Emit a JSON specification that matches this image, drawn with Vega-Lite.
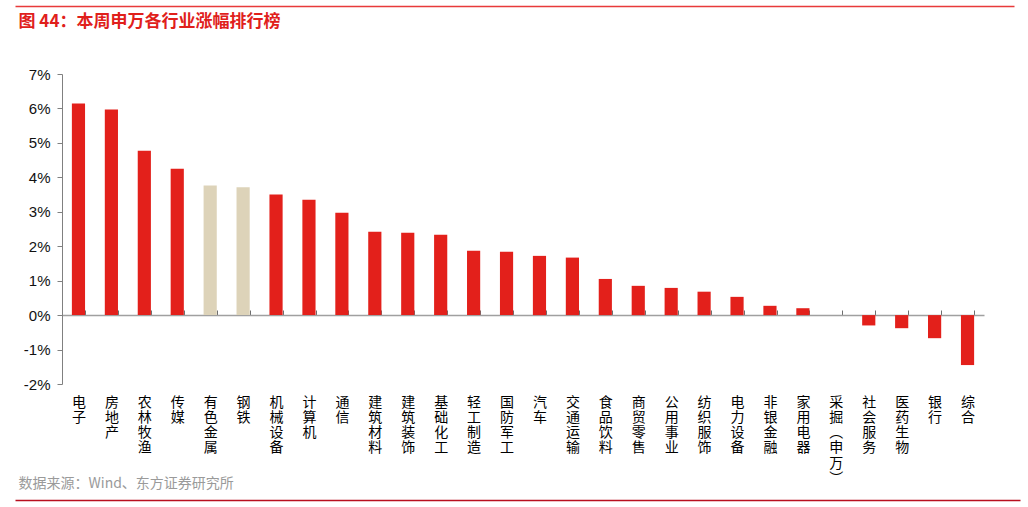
{
  "$schema": "https://vega.github.io/schema/vega-lite/v6.json",
  "width": 1005,
  "height": 310,
  "autosize": "none",
  "padding": {"left": 15, "top": 74, "right": 8, "bottom": 123},
  "config": {"view": {"stroke": null}, "font": "Noto Sans CJK SC"},
  "data": {
    "values": [
      {"industry": "电子", "change": 0.0614},
      {"industry": "房地产", "change": 0.0597},
      {"industry": "农林牧渔", "change": 0.0477},
      {"industry": "传媒", "change": 0.0425},
      {"industry": "有色金属", "change": 0.0376},
      {"industry": "钢铁", "change": 0.0371},
      {"industry": "机械设备", "change": 0.0350},
      {"industry": "计算机", "change": 0.0335},
      {"industry": "通信", "change": 0.0297},
      {"industry": "建筑材料", "change": 0.0242},
      {"industry": "建筑装饰", "change": 0.0239},
      {"industry": "基础化工", "change": 0.0233},
      {"industry": "轻工制造", "change": 0.0187},
      {"industry": "国防军工", "change": 0.0184},
      {"industry": "汽车", "change": 0.0172},
      {"industry": "交通运输", "change": 0.0167},
      {"industry": "食品饮料", "change": 0.0105},
      {"industry": "商贸零售", "change": 0.0085},
      {"industry": "公用事业", "change": 0.0079},
      {"industry": "纺织服饰", "change": 0.0068},
      {"industry": "电力设备", "change": 0.0053},
      {"industry": "非银金融", "change": 0.0027},
      {"industry": "家用电器", "change": 0.0020},
      {"industry": "采掘(申万)", "change": 0.0},
      {"industry": "社会服务", "change": -0.0030},
      {"industry": "医药生物", "change": -0.0038},
      {"industry": "银行", "change": -0.0067},
      {"industry": "综合", "change": -0.0145}
    ]
  },
  "layer": [
    {
      "mark": {"type": "bar"},
      "encoding": {
        "x": {
          "field": "industry",
          "type": "nominal",
          "sort": null,
          "scale": {"range": [47, 969], "paddingInner": 0.6, "paddingOuter": 0.3},
          "axis": {
            "orient": "bottom",
            "offset": -69,
            "title": null,
            "labelAngle": 0,
            "labelExpr": "split(replace(replace(datum.label, '(', '︵'), ')', '︶'), '')",
            "labelFontSize": 14,
            "labelLineHeight": 15.3,
            "labelPadding": 85,
            "labelBaseline": "top",
            "labelColor": "#000000",
            "labelOverlap": false,
            "labelBound": false,
            "labelFlush": false,
            "labelLimit": 0,
            "tickBand": "extent",
            "tickSize": -5,
            "tickColor": "#6e6e6e",
            "domainColor": "#a0a0a0",
            "domainWidth": 1.5
          }
        },
        "y": {
          "field": "change",
          "type": "quantitative",
          "scale": {"domain": [-0.02, 0.07], "nice": false},
          "axis": {
            "title": null,
            "offset": -47,
            "grid": false,
            "values": [-0.02, -0.01, 0, 0.01, 0.02, 0.03, 0.04, 0.05, 0.06, 0.07],
            "format": ".0%",
            "labelExpr": "replace(datum.label, '−', '-')",
            "labelFont": "Liberation Sans",
            "labelFontSize": 15,
            "labelColor": "#111111",
            "labelPadding": 7,
            "tickSize": 5,
            "tickColor": "#808080",
            "domainColor": "#808080"
          }
        },
        "color": {
          "condition": {"test": "datum.industry === '有色金属' || datum.industry === '钢铁'", "value": "#DDD3B9"},
          "value": "#E3201B"
        }
      }
    },
    {
      "mark": {"type": "bar", "opacity": 0},
      "encoding": {
        "x": {
          "field": "industry",
          "type": "nominal",
          "sort": null,
          "scale": {"range": [0, 999]},
          "axis": {
            "orient": "top",
            "offset": 68,
            "labels": false,
            "ticks": false,
            "domainColor": "#E83A3A",
            "domainWidth": 1.5,
            "title": "图 44：本周申万各行业涨幅排行榜",
            "titleX": 3,
            "titleY": 15,
            "titleAlign": "left",
            "titleBaseline": "middle",
            "titleAngle": 0,
            "titleFontSize": 17,
            "titleFontWeight": "bold",
            "titleColor": "#E0201B"
          }
        }
      }
    },
    {
      "mark": {"type": "bar", "opacity": 0},
      "encoding": {
        "x": {
          "field": "industry",
          "type": "nominal",
          "sort": null,
          "axis": {
            "orient": "bottom",
            "offset": 116,
            "labels": false,
            "ticks": false,
            "domainColor": "#B80F1F",
            "domainWidth": 1.5,
            "title": "数据来源：Wind、东方证券研究所",
            "titleX": 3,
            "titleY": -17,
            "titleAlign": "left",
            "titleBaseline": "middle",
            "titleAngle": 0,
            "titleFontSize": 14,
            "titleFontWeight": "normal",
            "titleColor": "#9a9a9a"
          }
        }
      }
    }
  ],
  "resolve": {"scale": {"x": "independent"}, "axis": {"x": "independent"}}
}
